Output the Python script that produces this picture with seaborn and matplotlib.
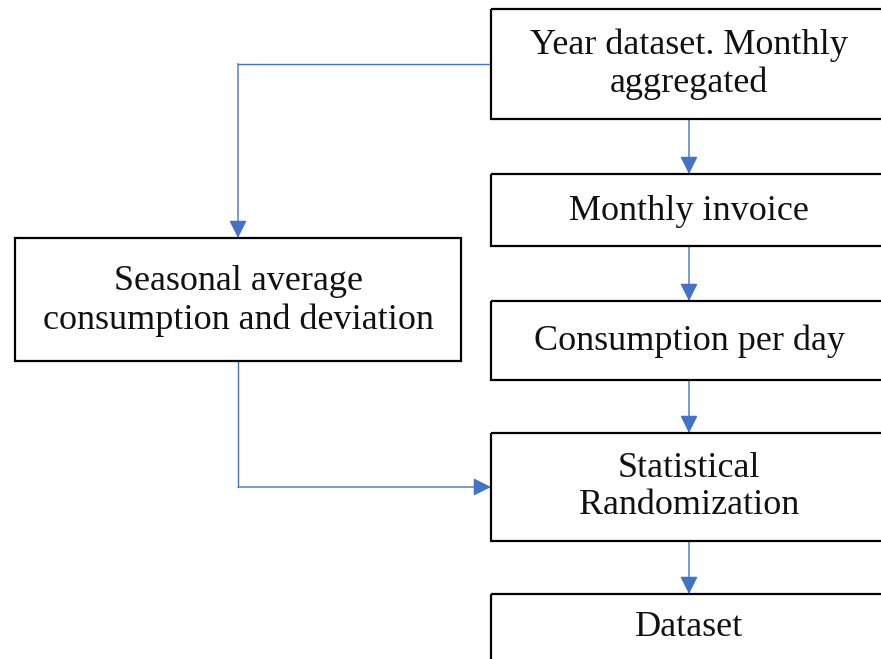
import matplotlib
matplotlib.use("Agg")
import matplotlib.pyplot as plt
import seaborn as sns
from matplotlib.patches import Rectangle, FancyArrowPatch

sns.set_theme(style="white")
plt.rcParams["font.family"] = ["Liberation Serif", "DejaVu Serif"]

# flowchart boxes: labels and pixel geometry (left, top, width, height)
labels = [
    "Year dataset. Monthly\naggregated",
    "Monthly invoice",
    "Consumption per day",
    "Statistical\nRandomization",
    "Dataset",
    "Seasonal average\nconsumption and deviation",
]
box_left = [491, 491, 491, 491, 491, 15]
box_top = [9, 174, 301, 433, 594, 238]
box_width = [396, 396, 396, 396, 396, 446]
box_height = [110, 72, 79, 108, 100, 123]
label_y = [64, 211, 341, 487, 627, 301]

# connectors as (from box, to box)
main_chain = [(0, 1), (1, 2), (2, 3), (3, 4)]

BLUE = "#4472C4"
W, H = 881, 659

fig = plt.figure(figsize=(W / 100, H / 100), dpi=100)
ax = fig.add_axes([0, 0, 1, 1])
ax.set_xlim(0, W)
ax.set_ylim(H, 0)
ax.axis("off")


def arrow(x0, y0, x1, y1):
    ax.add_patch(FancyArrowPatch(
        (x0, y0), (x1, y1),
        arrowstyle="-|>,head_length=0.9,head_width=0.45",
        mutation_scale=12, color=BLUE, lw=1.0,
        shrinkA=0, shrinkB=0, zorder=2,
    ))


for lab, x, y, w, h, ty in zip(labels, box_left, box_top, box_width, box_height, label_y):
    ax.add_patch(Rectangle((x, y), w, h, fill=False, ec="black", lw=1.6, zorder=3))
    ax.text(x + w / 2, ty, lab, ha="center", va="center",
            fontsize=26, linespacing=1.18, color="#111111", zorder=4)

# vertical chain on the right
for a, b in main_chain:
    cx = box_left[a] + box_width[a] / 2
    arrow(cx, box_top[a] + box_height[a], cx, box_top[b])

# top box -> seasonal box (left then down)
ys = box_top[0] + box_height[0] / 2 - 0.5
lx = box_left[5] + box_width[5] / 2
ax.plot([box_left[0], lx], [ys, ys], color=BLUE, lw=1.0, zorder=2)
arrow(lx, ys, lx, box_top[5])

# seasonal box -> randomization (down then right)
yr = box_top[3] + box_height[3] / 2
ax.plot([lx, lx], [box_top[5] + box_height[5], yr], color=BLUE, lw=1.0, zorder=2)
arrow(lx, yr, box_left[3], yr)

fig.savefig("out.png", dpi=100)
